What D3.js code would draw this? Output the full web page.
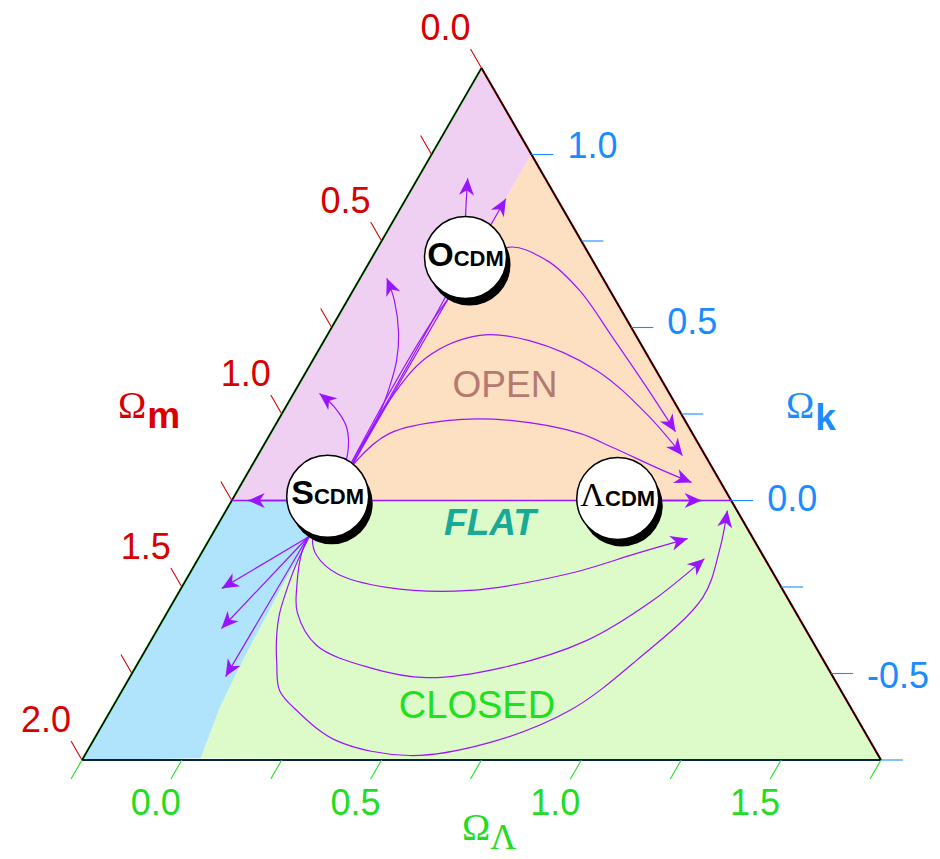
<!DOCTYPE html>
<html><head><meta charset="utf-8">
<script src="https://cdn.jsdelivr.net/npm/d3@7/dist/d3.min.js"></script>
<style>body{margin:0;background:#fff}svg{display:block}</style>
</head><body>
<svg id="chart" width="940" height="859"></svg>
<script>
// ---------- DATA (points are [Omega_m, Omega_Lambda]; Omega_k = 1 - Omega_m - Omega_Lambda) ----------
const omegaMTicks = [0, 0.25, 0.5, 0.75, 1.0, 1.25, 1.5, 1.75, 2.0];
const omegaMLabels = [0.0, 0.5, 1.0, 1.5, 2.0];
const omegaKTicks = [1.0, 0.75, 0.5, 0.25, 0.0, -0.25, -0.5, -0.75];
const omegaKLabels = [1.0, 0.5, 0.0, -0.5];
const omegaLTicks = [-0.25, 0, 0.25, 0.5, 0.75, 1.0, 1.25, 1.5, 1.75];
const omegaLLabels = [0.0, 0.5, 1.0, 1.5];

const regionPurple = [[0,-0.25],[0,0],[1,0],[1.25,-0.25]];
const regionOrange = [[0,0],[0,1],[1,0]];
const recollapseEdge = [[1,0],[1.25,0],[1.47,0.01],[1.58,0.02],[1.70,0.045]];
const regionBlueExtra = [[2,-0.25],[1.25,-0.25]];
const regionGreenExtra = [[0,1.75],[0,1]];

const flatLine = [[1.25,-0.25],[0,1]];
const flatArrowLeft = [[1.0,0.0],[1.21,-0.21]];
const flatArrowRight = [[0.3,0.7],[0.074,0.926]];

const flowsOpen = [
  [[1,0],[0.892,-0.028],[0.857,-0.068],[0.858,-0.127],[0.876,-0.185]],
  [[1,0],[0.890,-0.005],[0.755,-0.006],[0.692,-0.019],[0.635,-0.040],[0.591,-0.074],[0.554,-0.132],[0.541,-0.183]],
  [[1,0],[0.431,-0.009],[0.314,-0.016],[0.256,-0.074],[0.194,-0.125]],
  [[1,0],[0.128,0.0]],
  [[1,0],[0.42,0.0],[0.197,0.072],[0.115,0.191],[0.076,0.317],[0.061,0.468],[0.048,0.625],[0.040,0.761]],
  [[1,0],[0.890,0.0],[0.743,-0.003],[0.556,0.031],[0.391,0.132],[0.274,0.264],[0.149,0.475],[0.087,0.662],[0.057,0.813]],
  [[1,0],[0.880,0.005],[0.758,0.048],[0.597,0.172],[0.432,0.337],[0.282,0.524],[0.220,0.627],[0.128,0.785],[0.073,0.875]]
];
const flowsClosed = [
  [[1.064,-0.007],[1.106,0.010],[1.117,0.042],[1.093,0.118],[0.988,0.263],[0.785,0.475],[0.510,0.701],[0.313,0.840],[0.164,0.946]],
  [[1.064,-0.007],[1.146,-0.001],[1.213,0.038],[1.248,0.076],[1.247,0.172],[1.147,0.336],[1.019,0.493],[0.814,0.669],[0.565,0.840],[0.341,0.948],[0.151,1.017]],
  [[1.064,-0.007],[1.179,0.003],[1.236,0.015],[1.294,0.033],[1.336,0.060],[1.373,0.098],[1.405,0.144],[1.391,0.216],[1.335,0.359],[1.174,0.563],[0.963,0.739],[0.708,0.899],[0.468,0.994],[0.211,1.069],[0.102,1.043],[0.024,1.005]],
  [[1.114,-0.007],[1.402,-0.148]],
  [[1.114,-0.007],[1.461,-0.091]],
  [[1.114,-0.007],[1.520,-0.011]]
];

const modelNames = ["S", "O", "Λ"];
const modelPositions = [[1.004,-0.016],[0.314,-0.016],[0.281,0.713]];

const regionTexts = ["OPEN", "FLAT", "CLOSED"];

// ---------- LAYOUT ----------
const svg = d3.select("#chart");
const T = [481.5, 68], BL = [82, 760], BR = [881, 760];
const wM = d3.scaleLinear().domain([0, 2]).range([0, 1]);
const wL = d3.scaleLinear().domain([-0.25, 1.75]).range([0, 1]);
const wK = d3.scaleLinear().domain([-0.75, 1.25]).range([0, 1]);
function proj(p) {
  const m = p[0], l = p[1], k = 1 - m - l;
  const a = wM(m), b = wL(l), c = wK(k);
  return [a*BL[0] + b*BR[0] + c*T[0], a*BL[1] + b*BR[1] + c*T[1]];
}
const SANS = "'Liberation Sans', Arial, Helvetica, sans-serif";
const SERIF = "'Liberation Serif', 'Times New Roman', serif";
const RED = "#d80000", BLUE = "#1a8cff", GREEN = "#22dd22", VIOLET = "#9914ff";

const poly = d3.line().x(d => proj(d)[0]).y(d => proj(d)[1]);
const curve = d3.line().x(d => proj(d)[0]).y(d => proj(d)[1]).curve(d3.curveCatmullRom.alpha(0.5));

const defs = svg.append("defs");
defs.append("marker").attr("id", "arr").attr("viewBox", "-18 -9 20 18")
  .attr("refX", 0).attr("refY", 0).attr("markerWidth", 20).attr("markerHeight", 18)
  .attr("markerUnits", "userSpaceOnUse").attr("orient", "auto")
  .append("path").attr("d", "M0,0L-17,-7.5L-12,0L-17,7.5Z").attr("fill", VIOLET);

// regions
const gR = svg.append("g");
gR.append("path").attr("d", poly(regionPurple) + "Z").attr("fill", "#f0d0f2");
gR.append("path").attr("d", poly(regionOrange) + "Z").attr("fill", "#fde0c2");
gR.append("path").attr("d", poly(recollapseEdge.concat(regionBlueExtra)) + "Z").attr("fill", "#b0e4fc");
gR.append("path").attr("d", poly([[1,0],[0,1]].concat(regionGreenExtra.slice(0,1), recollapseEdge.slice().reverse())) + "Z").attr("fill", "#ddfbc8");

// edges (axis colour under black)
const edges = [
  {pts: [[0,-0.25],[2,-0.25]], col: GREEN},
  {pts: [[2,-0.25],[0,1.75]], col: BLUE},
  {pts: [[0,1.75],[0,-0.25]], col: RED}
];
edges.forEach(e => {
  svg.append("path").attr("d", poly(e.pts)).attr("stroke", e.col).attr("stroke-width", 2.1).attr("fill", "none");
});
edges.forEach(e => {
  svg.append("path").attr("d", poly(e.pts)).attr("stroke", "#000").attr("stroke-width", 1.5).attr("fill", "none");
});

// ticks
const tl = 0.055;
omegaMTicks.forEach(v => {
  const a = proj([v, -0.25]), b = proj([v, -0.25 - tl]);
  svg.append("line").attr("x1", a[0]).attr("y1", a[1]).attr("x2", b[0]).attr("y2", b[1]).attr("stroke", RED).attr("stroke-width", 1.1);
});
omegaKTicks.forEach(v => {
  const a = proj([0, 1 - v]), b = proj([-tl, 1 - v + tl]);
  svg.append("line").attr("x1", a[0]).attr("y1", a[1]).attr("x2", b[0]).attr("y2", b[1]).attr("stroke", BLUE).attr("stroke-width", 1.1);
});
omegaLTicks.forEach(v => {
  const a = proj([1.75 - v, v]), b = proj([1.75 - v + tl, v]);
  svg.append("line").attr("x1", a[0]).attr("y1", a[1]).attr("x2", b[0]).attr("y2", b[1]).attr("stroke", GREEN).attr("stroke-width", 1.1);
});

// tick labels
omegaMLabels.forEach(v => {
  const a = proj([v, -0.25]);
  svg.append("text").attr("x", a[0] - 36).attr("y", a[1] - 28).attr("text-anchor", "middle")
    .attr("font-family", SANS).attr("font-size", 36).attr("fill", RED).text(v.toFixed(1));
});
omegaKLabels.forEach(v => {
  const a = proj([0, 1 - v]);
  svg.append("text").attr("x", a[0] + 36).attr("y", a[1] + 3 + (1 - v) * 7.5).attr("text-anchor", "start")
    .attr("font-family", SANS).attr("font-size", 36).attr("fill", BLUE).text(v.toFixed(1));
});
omegaLLabels.forEach(v => {
  const a = proj([1.75 - v, v]);
  svg.append("text").attr("x", a[0] - 26).attr("y", a[1] + 55).attr("text-anchor", "middle")
    .attr("font-family", SANS).attr("font-size", 36).attr("fill", GREEN).text(v.toFixed(1));
});

// axis titles
function title(x, y, col, sub, subFont, subWeight, subSize, dy, dx) {
  const t = svg.append("text").attr("x", x).attr("y", y).attr("fill", col);
  t.append("tspan").attr("font-family", SERIF).attr("font-size", 38).text("Ω");
  t.append("tspan").attr("font-family", subFont).attr("font-weight", subWeight).attr("font-size", subSize)
    .attr("dy", dy).attr("dx", dx).text(sub);
}
title(118, 418, RED, "m", SANS, "bold", 37, 10, 1);
title(786, 418, BLUE, "k", SANS, "bold", 37, 12, 1);
title(462, 840, GREEN, "Λ", SERIF, "normal", 36, 9, 0);

// region texts
const gT = svg.append("g").attr("text-anchor", "middle").attr("font-family", SANS);
gT.append("text").attr("x", 505).attr("y", 397).attr("font-size", 37).attr("fill", "#b47a70").text(regionTexts[0]);
gT.append("text").attr("x", 490).attr("y", 535).attr("font-size", 37).attr("font-weight", "bold").attr("font-style", "italic").attr("fill", "#18aa96").text(regionTexts[1]);
gT.append("text").attr("x", 477).attr("y", 718).attr("font-size", 38).attr("fill", "#1ee01e").text(regionTexts[2]);

// flows
const gF = svg.append("g").attr("fill", "none").attr("stroke", VIOLET);
gF.append("path").attr("d", poly(flatLine)).attr("stroke-width", 1.6);
[flatArrowLeft, flatArrowRight].forEach(f => {
  gF.append("path").attr("d", poly(f)).attr("stroke-width", 1.6).attr("marker-end", "url(#arr)");
});
flowsOpen.concat(flowsClosed).forEach(f => {
  gF.append("path").attr("d", curve(f)).attr("stroke-width", 1.2).attr("marker-end", "url(#arr)");
});

// model buttons
const R = 41;
modelNames.forEach((n, i) => {
  const c = proj(modelPositions[i]);
  const g = svg.append("g");
  g.append("circle").attr("cx", c[0] + 4).attr("cy", c[1] + 7).attr("r", R).attr("fill", "#000");
  g.append("circle").attr("cx", c[0]).attr("cy", c[1]).attr("r", R).attr("fill", "#fff").attr("stroke", "#000").attr("stroke-width", 1.5);
  const t = g.append("text").attr("x", c[0]).attr("y", c[1] + 8).attr("text-anchor", "middle").attr("fill", "#000");
  if (n === "Λ") {
    t.append("tspan").attr("font-family", SERIF).attr("font-size", 34).text(n);
  } else {
    t.append("tspan").attr("font-family", SANS).attr("font-weight", "bold").attr("font-size", 34).text(n);
  }
  t.append("tspan").attr("font-family", SANS).attr("font-weight", "bold").attr("font-size", 22).text("CDM");
});
</script>
</body></html>
